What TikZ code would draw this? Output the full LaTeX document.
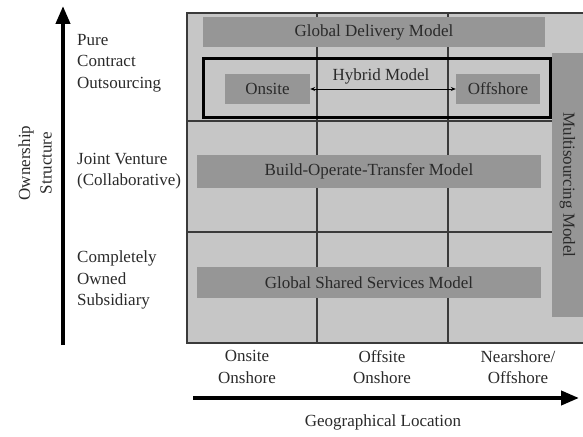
\documentclass[tikz,border=0pt]{standalone}
\usepackage{fontspec}
\setmainfont{Liberation Serif}
\usetikzlibrary{arrows.meta}
\definecolor{gridbg}{HTML}{C6C6C6}
\definecolor{boxfill}{HTML}{969696}
\definecolor{gridline}{HTML}{3A3A3A}
\definecolor{txt}{HTML}{2A2A2A}
\begin{document}
\begin{tikzpicture}[x=1pt,y=-1pt,
  every node/.style={font=\fontsize{17}{21.5}\selectfont, text=txt},
  modelbox/.style={fill=boxfill, inner sep=0pt, anchor=center},
  gridln/.style={draw=gridline, line width=1.3pt},
  bigarrow/.style={line width=4pt, -{Triangle[length=18pt,width=14pt]}},
  lbl/.style={align=left, anchor=west, inner sep=0pt},
  blbl/.style={align=center, inner sep=0pt}]
\useasboundingbox (0,0) rectangle (583,436);
% grid background
\fill[gridbg] (187,13) rectangle (583,343);
\draw[gridln] (583,13) -- (187,13) -- (187,343) -- (583,343);
\draw[gridln] (317,13) -- (317,343);
\draw[gridln] (448,13) -- (448,343);
\draw[gridln] (187,121) -- (552,121);
\draw[gridln] (187,232) -- (552,232);
% model boxes
\node[modelbox, minimum width=342pt, minimum height=30pt] (gdm) at (374,32) {Global Delivery Model};
\node[draw=black, line width=3pt, minimum width=347pt, minimum height=58pt, inner sep=0pt] (hyb) at (376.5,88) {};
\node[modelbox, minimum width=85pt, minimum height=30pt] (onsite) at (267.5,89) {Onsite};
\node[modelbox, minimum width=84pt, minimum height=30pt] (offshore) at (498,89) {Offshore};
\node[inner sep=0pt] (hyblbl) at (381,76) {Hybrid Model};
\draw[line width=0.8pt, {Stealth[length=5pt,width=4pt]}-{Stealth[length=5pt,width=4pt]}] (onsite.east) -- (offshore.west);
\node[modelbox, minimum width=344pt, minimum height=33pt] (bot) at (369,171.5) {Build-Operate-Transfer Model};
\node[modelbox, minimum width=344pt, minimum height=31pt] (gss) at (369,282.5) {Global Shared Services Model};
\node[modelbox, minimum width=31pt, minimum height=264pt] (multi) at (567.5,185) {};
\node[rotate=-90, inner sep=0pt] (multilbl) at (multi.center) {Multisourcing Model};
% vertical axis
\coordinate (ybot) at (63,345);
\coordinate (ytop) at (63,6);
\draw[bigarrow] (ybot) -- (ytop);
\node[rotate=90, align=center, inner sep=0pt] (own) at (35,163) {Ownership\\Structure};
\node[lbl] (pure) at (77,63) {Pure\\Contract\\Outsourcing};
\node[lbl] (jv) at (77,171) {Joint Venture\\(Collaborative)};
\node[lbl] (cos) at (77,280) {Completely\\Owned\\Subsidiary};
% horizontal axis
\coordinate (xl) at (193,398);
\coordinate (xr) at (579,398);
\draw[bigarrow] (xl) -- (xr);
\node[blbl] (on) at (247,367) {Onsite\\Onshore};
\node[blbl] (off) at (382,367) {Offsite\\Onshore};
\node[blbl] (near) at (518,367) {Nearshore/\\Offshore};
\node[inner sep=0pt] (geo) at (383,422) {Geographical Location};
\end{tikzpicture}
\end{document}
